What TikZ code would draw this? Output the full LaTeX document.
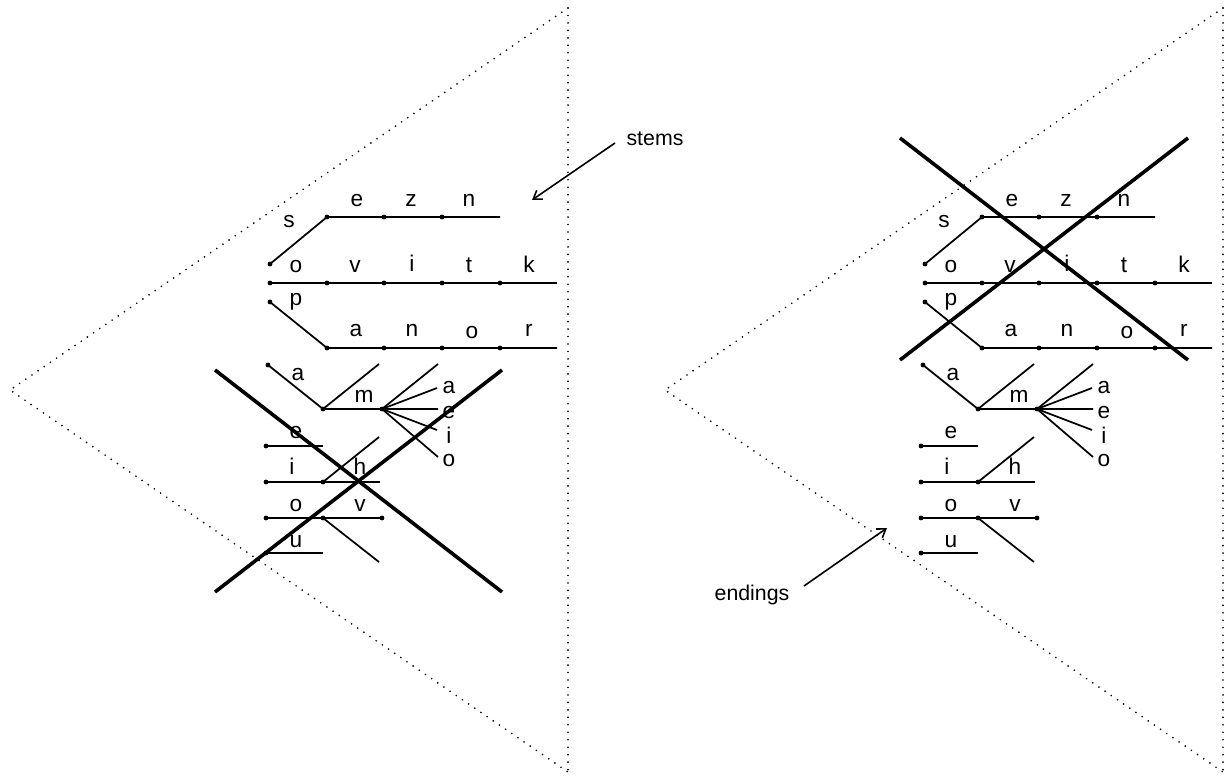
\documentclass[tikz,border=0pt]{standalone}
\usepackage{fontspec}
\setmainfont{Liberation Sans}
\usetikzlibrary{arrows.meta}
\tikzset{
 stroke/.style={line width=1.3pt},
 crossline/.style={line width=2.7pt},
 guide/.style={line width=1.4pt, dash pattern=on 0pt off 5.6pt, line cap=round},
 lbl/.style={anchor=base, inner sep=0pt, font=\fontsize{17}{20}\selectfont},
 ann/.style={anchor=base, inner sep=0pt, font=\fontsize{16}{19}\selectfont},
 arr/.style={line width=1.2pt, -{Straight Barb[length=6pt,width=8pt]}},
}
\newcommand\dotat[1]{\fill (#1) circle[radius=1.8pt];}
\newcommand\wordpanel[2]{%
\begin{scope}[shift={(#2,0)}]
 \coordinate (#1top) at (568,8);
 \coordinate (#1bot) at (568,772);
 \coordinate (#1apex) at (10,390);
 \draw[guide] (#1top) -- (#1apex) -- (#1bot);
 \draw[guide] (#1top) -- (#1bot);
 % row s e z n
 \coordinate (#1sA) at (270,264);
 \coordinate (#1sB) at (327,217);
 \coordinate (#1sC) at (384,217);
 \coordinate (#1sD) at (442,217);
 \coordinate (#1sE) at (500,217);
 \draw[stroke] (#1sA) -- (#1sB) -- (#1sE);
 % row o v i t k
 \coordinate (#1oA) at (270,283);
 \coordinate (#1oB) at (327,283);
 \coordinate (#1oC) at (384,283);
 \coordinate (#1oD) at (442,283);
 \coordinate (#1oE) at (500,283);
 \coordinate (#1oF) at (557,283);
 \draw[stroke] (#1oA) -- (#1oF);
 % row p a n o r
 \coordinate (#1pA) at (270,302);
 \coordinate (#1pB) at (327,348);
 \coordinate (#1pC) at (384,348);
 \coordinate (#1pD) at (442,348);
 \coordinate (#1pE) at (500,348);
 \coordinate (#1pF) at (557,348);
 \draw[stroke] (#1pA) -- (#1pB) -- (#1pF);
 % a m fan
 \coordinate (#1aA) at (268,365);
 \coordinate (#1aB) at (323,409);
 \coordinate (#1aU) at (379,364);
 \coordinate (#1aF) at (382,409);
 \coordinate (#1aE) at (438,409);
 \coordinate (#1fU) at (438,364);
 \coordinate (#1fa) at (437,388);
 \coordinate (#1fi) at (437,430);
 \coordinate (#1fo) at (438,457);
 \draw[stroke] (#1aA) -- (#1aB) -- (#1aE);
 \draw[stroke] (#1aB) -- (#1aU);
 \draw[stroke] (#1aF) -- (#1fU);
 \draw[stroke] (#1aF) -- (#1fa);
 \draw[stroke] (#1aF) -- (#1fi);
 \draw[stroke] (#1aF) -- (#1fo);
 % e row
 \coordinate (#1eA) at (266,446);
 \coordinate (#1eB) at (323,446);
 \draw[stroke] (#1eA) -- (#1eB);
 % i h row
 \coordinate (#1iA) at (266,482);
 \coordinate (#1iB) at (323,482);
 \coordinate (#1iC) at (380,482);
 \coordinate (#1iU) at (379,437);
 \draw[stroke] (#1iA) -- (#1iC);
 \draw[stroke] (#1iB) -- (#1iU);
 % o v row
 \coordinate (#1vA) at (266,518);
 \coordinate (#1vB) at (323,518);
 \coordinate (#1vC) at (382,518);
 \coordinate (#1vD) at (379,562);
 \draw[stroke] (#1vA) -- (#1vC);
 \draw[stroke] (#1vB) -- (#1vD);
 % u row
 \coordinate (#1uA) at (266,553);
 \coordinate (#1uB) at (323,553);
 \draw[stroke] (#1uA) -- (#1uB);
 % dots
 \foreach \d in {sA,sB,sC,sD,oA,oB,oC,oD,oE,pA,pB,pC,pD,pE,aA,aB,aF,eA,iA,iB,vA,vB,vC,uA}{\dotat{#1\d}}
 % labels
 \node[lbl] (#1Ls) at (289,227) {s};
 \node[lbl] (#1Le) at (357,206) {e};
 \node[lbl] (#1Lz) at (411,206) {z};
 \node[lbl] (#1Ln) at (469,206) {n};
 \node[lbl] (#1Lo) at (296,272) {o};
 \node[lbl] (#1Lv) at (355,272) {v};
 \node[lbl] (#1Li) at (412,271) {i};
 \node[lbl] (#1Lt) at (469,272) {t};
 \node[lbl] (#1Lk) at (529,272) {k};
 \node[lbl] (#1Lp) at (296,305) {p};
 \node[lbl] (#1La) at (356,336) {a};
 \node[lbl] (#1Ln2) at (412,336) {n};
 \node[lbl] (#1Lo2) at (472,338) {o};
 \node[lbl] (#1Lr) at (529,336) {r};
 \node[lbl] (#1La2) at (298,380) {a};
 \node[lbl] (#1Lm) at (364,402) {m};
 \node[lbl] (#1Lfa) at (449,393) {a};
 \node[lbl] (#1Lfe) at (449,418) {e};
 \node[lbl] (#1Lfi) at (449,443) {i};
 \node[lbl] (#1Lfo) at (449,466) {o};
 \node[lbl] (#1Le2) at (296,438) {e};
 \node[lbl] (#1Li2) at (292,474) {i};
 \node[lbl] (#1Lh) at (360,474) {h};
 \node[lbl] (#1Lo3) at (296,511) {o};
 \node[lbl] (#1Lv2) at (360,511) {v};
 \node[lbl] (#1Lu) at (296,547) {u};
\end{scope}}
\begin{document}
\begin{tikzpicture}[x=0.75pt,y=-0.75pt]
 \useasboundingbox (0,0) rectangle (1225,778);
 \fill[white] (0,0) rectangle (1225,778);
 \wordpanel{L}{0}
 \wordpanel{R}{655}
 % crosses
 \coordinate (LxA) at (215,370);
 \coordinate (LxB) at (502,592);
 \coordinate (LxC) at (215,592);
 \coordinate (LxD) at (502,370);
 \draw[crossline] (LxA) -- (LxB);
 \draw[crossline] (LxC) -- (LxD);
 \coordinate (RxA) at (900,138);
 \coordinate (RxB) at (1188,360);
 \coordinate (RxC) at (900,360);
 \coordinate (RxD) at (1188,138);
 \draw[crossline] (RxA) -- (RxB);
 \draw[crossline] (RxC) -- (RxD);
 % annotations
 \node[ann] (stems) at (655,145) {stems};
 \coordinate (stemsTail) at (615,143);
 \coordinate (stemsTip) at (532,200);
 \draw[arr] (stemsTail) -- (stemsTip);
 \node[ann] (endings) at (752,600) {endings};
 \coordinate (endTail) at (804,586);
 \coordinate (endTip) at (887,528);
 \draw[arr] (endTail) -- (endTip);
\end{tikzpicture}
\end{document}
